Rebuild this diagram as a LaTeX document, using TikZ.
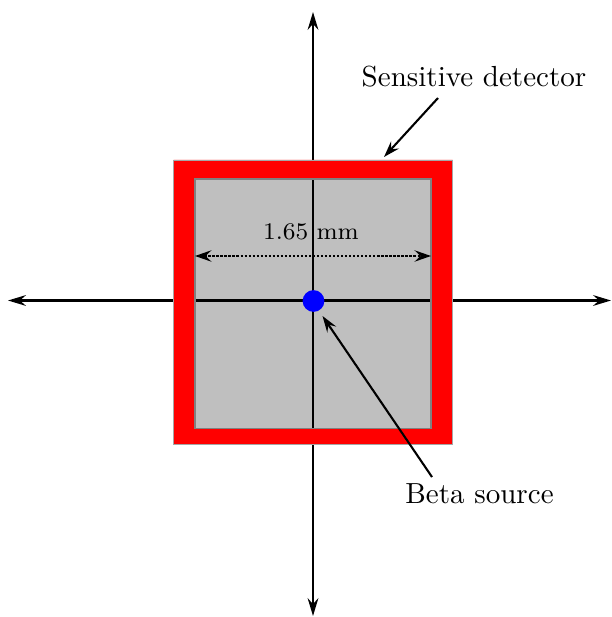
\documentclass[tikz,border=0pt]{standalone}
\usetikzlibrary{arrows.meta}
\begin{document}
\begin{tikzpicture}[x=0.3356pt,y=-0.3356pt,
  axisline/.style={line width=0.7pt,-{Stealth[length=6pt,width=3.6pt,inset=2pt]}},
  pointer/.style={line width=0.7pt,-{Stealth[length=5.5pt,width=3.6pt,inset=2pt]}},
  dimline/.style={line width=0.8pt,dash pattern=on 0.75pt off 0.6pt,{Stealth[length=5.5pt,width=3.8pt,inset=2pt]}-{Stealth[length=5.5pt,width=3.8pt,inset=2pt]}},
  lbl/.style={anchor=base,inner sep=0pt,font=\fontsize{9.75pt}{12pt}\selectfont},
  redbox/.style={fill=red,draw=gray!70,line width=0.3pt,even odd rule},
  graybox/.style={fill=gray!50},
  grayedge/.style={draw=gray,line width=0.6pt}]
\useasboundingbox (0,0) rectangle (611,617);
% detector interior
\path[graybox] (195,179) rectangle (431,428.5);
% axes
\coordinate (o) at (313,300.5);
\coordinate (top) at (313,12);
\coordinate (bot) at (313,616);
\coordinate (lft) at (8,300.5);
\coordinate (rgt) at (611,300.5);
\draw[axisline] (o) -- (top);
\draw[axisline] (o) -- (bot);
\draw[axisline] (o) -- (lft);
\draw[axisline] (o) -- (rgt);
% detector frame
\path[redbox] (173.5,160) rectangle (452.5,444) (195,179) rectangle (431,428.5);
\path[grayedge] (195,179) rectangle (431,428.5);
% dimension
\coordinate (dl) at (195,256);
\coordinate (dr) at (431,256);
\draw[dimline] (dl) -- (dr);
\node[lbl,font=\footnotesize] (dim) at (311,240) {1.65 mm};
% source
\node[circle,fill=blue,inner sep=0pt,minimum size=7.3pt] (src) at (313.5,301) {};
% labels
\node[lbl] (sd) at (474,87) {Sensitive detector};
\node[lbl] (bs) at (479.5,503) {Beta source};
\coordinate (sdfrom) at (438,98);
\coordinate (sdto) at (384,157);
\coordinate (bsfrom) at (432,477);
\coordinate (bsto) at (322.5,316);
\draw[pointer] (sdfrom) -- (sdto);
\draw[pointer] (bsfrom) -- (bsto);
\end{tikzpicture}
\end{document}
